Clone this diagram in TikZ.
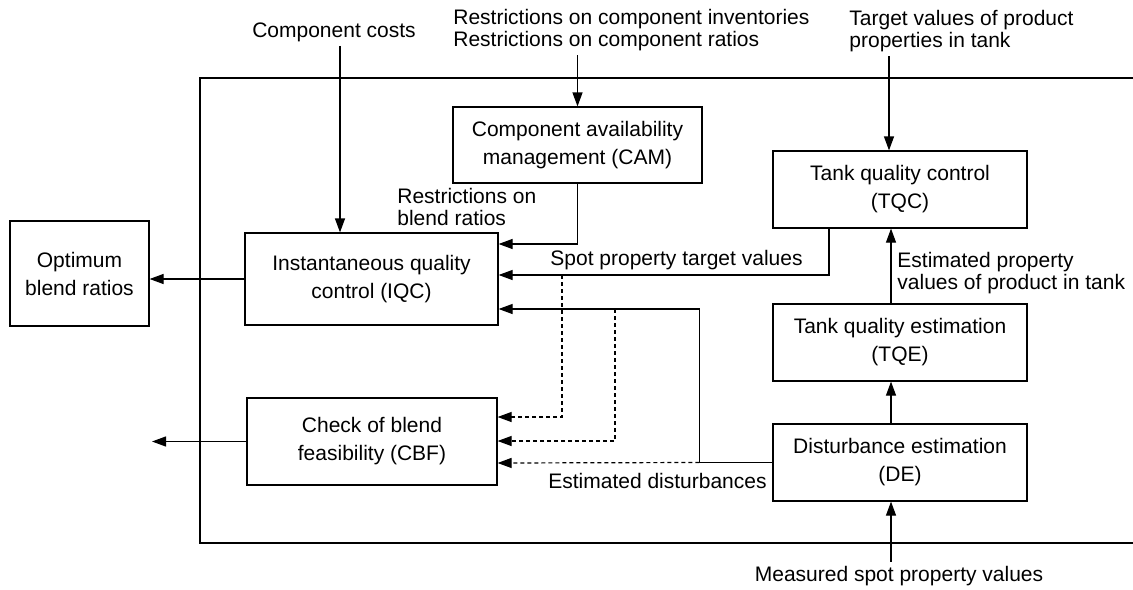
\documentclass[tikz,border=0pt]{standalone}
\usepackage{fontspec}
\setmainfont{Liberation Sans}
\usetikzlibrary{arrows.meta,calc}
\tikzset{
    blk/.style={draw, line width=0.6pt, align=center, inner sep=0pt,
        font=\fontsize{10.5}{14}\selectfont},
    lbl/.style={align=left, inner sep=2pt, font=\fontsize{10.5}{11}\selectfont},
    arr/.style={line width=0.6pt, -{Triangle[length=7pt,width=5pt]}},
    darr/.style={arr, dash pattern=on 2pt off 1.5pt}
}

\begin{document}
\begin{tikzpicture}[x=0.5pt, y=-0.5pt]
    \useasboundingbox (0,0) rectangle (1133,589);

    % Frame of the controller
    \draw[line width=0.6pt] (1133,78) -| (200,543) -- (1133,543);

    % Blocks
    \node[blk, minimum width=69.5pt, minimum height=52.5pt] (opt) at (79.5,273.5) {Optimum\\blend ratios};
    \node[blk, minimum width=126.5pt, minimum height=46pt] (iqc) at (371.5,279) {Instantaneous quality\\control (IQC)};
    \node[blk, minimum width=125pt, minimum height=43.5pt] (cbf) at (372,441.5) {Check of blend\\feasibility (CBF)};
    \node[blk, minimum width=124.5pt, minimum height=38pt] (cam) at (577.5,145) {Component availability\\management (CAM)};
    \node[blk, minimum width=127pt, minimum height=38.5pt] (tqc) at (900,189.5) {Tank quality control\\(TQC)};
    \node[blk, minimum width=127pt, minimum height=38.5pt] (tqe) at (900,342.5) {Tank quality estimation\\(TQE)};
    \node[blk, minimum width=127pt, minimum height=38.5pt] (de) at (900,462.5) {Disturbance estimation\\(DE)};

    % Labels
    \node[lbl] (costs) at (334,32) {Component costs};
    \node[lbl, anchor=west] (restr) at (449,30) {Restrictions on component inventories\\Restrictions on component ratios};
    \node[lbl, anchor=west] (target) at (845,31) {Target values of product\\properties in tank};
    \node[lbl, anchor=west] (rblend) at (393,207) {Restrictions on\\blend ratios};
    \node[lbl, anchor=west] (spot) at (546,260) {Spot property target values};
    \node[lbl, anchor=west] (estp) at (893,273) {Estimated property\\values of product in tank};
    \node[lbl, anchor=east] (estd) at (771,481) {Estimated disturbances};
    \node[lbl] (meas) at (899,576) {Measured spot property values};

    % Outputs
    \coordinate (cbfout) at (152,443);
    \draw[arr] (iqc.west) -- (iqc.west -| opt.east);
    \draw[arr] (cbf.west) -- (cbf.west -| cbfout);

    % Inputs from outside
    \draw[arr] ([xshift=3pt]costs.south) -- ([xshift=3pt]costs.south |- iqc.north);
    \draw[arr] (restr.south -| cam.north) -- (cam.north);
    \draw[arr] ([xshift=-5.5pt]tqc.north |- target.south) -- ([xshift=-5.5pt]tqc.north);
    \draw[arr] ([xshift=-4.5pt]de.south |- meas.north) -- ([xshift=-4.5pt]de.south);

    % Internal signals
    \draw[arr] (cam.south) |- ($(iqc.east)+(0,-35)$);
    \draw[arr] ([xshift=-35.5pt]tqc.south) |- ($(iqc.east)+(0,-4)$);
    \draw[arr] (de.west) -- ++(-73,0) coordinate (dsb) |- ($(iqc.east)+(0,30)$);
    \draw[arr] ([xshift=-4.5pt]tqe.north) -- ([xshift=-4.5pt]tqc.south);
    \draw[arr] ([xshift=-4.5pt]de.north) -- ([xshift=-4.5pt]tqe.south);

    % Dashed feeds to CBF
    \coordinate (spt) at (562,275);
    \coordinate (dst) at (615,309);
    \draw[darr] (spt) |- ($(cbf.east)+(0,-24.5)$);
    \draw[darr] (dst) |- ($(cbf.east)+(0,-0.5)$);
    \draw[darr] (dsb) -- ($(cbf.east)+(0,21.5)$);
\end{tikzpicture}
\end{document}
